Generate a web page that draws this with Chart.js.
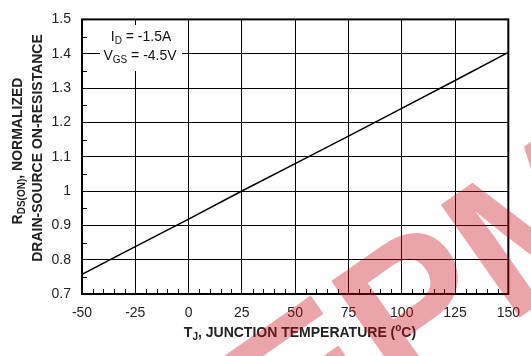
<!DOCTYPE html>
<html>
<head>
<meta charset="utf-8">
<script src="https://cdn.jsdelivr.net/npm/chart.js@4/dist/chart.umd.min.js"></script>
<style>
  html, body { margin: 0; padding: 0; background: #fff; }
  canvas { display: block; }
</style>
</head>
<body>
<canvas id="grafico" width="531" height="356"></canvas>
<script>
// =============================
// DATOS
// =============================
const temperaturas = [-50, -25, 0, 25, 50, 75, 100, 125, 150];
const rdsNormalizada = [0.757, 0.838, 0.918, 1.0, 1.08, 1.16, 1.241, 1.322, 1.404];

const xTicks = [-50, -25, 0, 25, 50, 75, 100, 125, 150];
const yTicks = [0.7, 0.8, 0.9, 1, 1.1, 1.2, 1.3, 1.4, 1.5];

// texto con subindices: [texto, 0 normal | 1 sub | 2 sup]
const condiciones = [
  [["I", 0], ["D", 1], [" = -1.5A", 0]],
  [["V", 0], ["GS", 1], [" = -4.5V", 0]]
];
const tituloX = [["T", 0], ["J", 1], [", JUNCTION TEMPERATURE (", 0], ["o", 2], ["C)", 0]];
const tituloY1 = [["R", 0], ["DS(ON)", 1], [", NORMALIZED", 0]];
const tituloY2 = [["DRAIN-SOURCE ON-RESISTANCE", 0]];

const FUENTE = "'Liberation Sans', Arial, sans-serif";

// =============================
// TEXTO ENRIQUECIDO
// =============================
function textoRico(ctx, partes, x, y, size, bold) {
  const peso = bold ? "bold " : "";
  const fNormal = peso + size + "px " + FUENTE;
  const fSub = peso + Math.round(size * 0.68) + "px " + FUENTE;
  let ancho = 0;
  partes.forEach(([t, tipo]) => {
    ctx.font = tipo ? fSub : fNormal;
    ancho += ctx.measureText(t).width;
  });
  let cx = x - ancho / 2;
  ctx.textAlign = "left";
  ctx.textBaseline = "middle";
  partes.forEach(([t, tipo]) => {
    ctx.font = tipo ? fSub : fNormal;
    let dy = 0;
    if (tipo === 1) dy = size * 0.3;
    if (tipo === 2) dy = -size * 0.35;
    ctx.fillText(t, cx, y + dy);
    cx += ctx.measureText(t).width;
  });
}

// =============================
// PLUGIN DECORACION
// =============================
const decoracion = {
  id: "decoracion",
  afterDatasetsDraw(chart) {
    const { ctx, chartArea: a, scales } = chart;
    ctx.save();

    // ticks menores
    ctx.strokeStyle = "#000";
    ctx.lineWidth = 1;
    ctx.beginPath();
    for (let v = -50; v <= 150; v += 5) {
      if (v % 25 === 0) continue;
      const px = Math.round(scales.x.getPixelForValue(v)) + 0.5;
      ctx.moveTo(px, a.bottom);
      ctx.lineTo(px, a.bottom - 5);
    }
    for (let i = 0; i < yTicks.length - 1; i++) {
      const v = (yTicks[i] + yTicks[i + 1]) / 2;
      const py = Math.round(scales.y.getPixelForValue(v)) + 0.5;
      ctx.moveTo(a.left, py);
      ctx.lineTo(a.left + 5, py);
    }
    ctx.stroke();

    // marco
    ctx.lineWidth = 2;
    ctx.strokeRect(a.left, a.top, a.right - a.left, a.bottom - a.top);

    // cuadro de condiciones
    ctx.fillStyle = "#fff";
    ctx.fillRect(100, 25, 82, 46);
    ctx.fillStyle = "#111";
    textoRico(ctx, condiciones[0], 141, 37, 14, false);
    textoRico(ctx, condiciones[1], 140, 56, 14, false);

    // titulos
    ctx.fillStyle = "#222";
    textoRico(ctx, tituloX, 300, 333, 14, true);
    ctx.save();
    ctx.translate(18, 151);
    ctx.rotate(-Math.PI / 2);
    textoRico(ctx, tituloY1, 0, 0, 14, true);
    ctx.restore();
    ctx.save();
    ctx.translate(38, 148);
    ctx.rotate(-Math.PI / 2);
    textoRico(ctx, tituloY2, 0, 0, 14, true);
    ctx.restore();

    ctx.restore();
  },
  afterDraw(chart) {
    // marca de agua
    const { ctx } = chart;
    ctx.save();
    ctx.translate(290, 478);
    ctx.rotate(-0.61);
    ctx.fillStyle = "rgba(200, 10, 25, 0.37)";
    ctx.font = "bold 200px " + FUENTE;
    ctx.textAlign = "left";
    ctx.textBaseline = "alphabetic";
    ctx.fillText("EPM", 0, 0);
    ctx.restore();
  }
};

// =============================
// GRAFICO
// =============================
new Chart(document.getElementById("grafico"), {
  type: "line",
  data: {
    datasets: [{
      data: temperaturas.map((t, i) => ({ x: t, y: rdsNormalizada[i] })),
      borderColor: "#000",
      borderWidth: 1.5,
      pointRadius: 0,
      tension: 0
    }]
  },
  options: {
    responsive: false,
    animation: false,
    layout: { padding: { top: 12, right: 13, left: 0, bottom: 0 } },
    plugins: {
      legend: { display: false },
      tooltip: { enabled: false }
    },
    scales: {
      x: {
        type: "linear",
        min: xTicks[0],
        max: xTicks[xTicks.length - 1],
        afterBuildTicks: s => { s.ticks = xTicks.map(v => ({ value: v })); },
        ticks: {
          color: "#222",
          font: { family: FUENTE, size: 14 },
          padding: 11,
          maxRotation: 0,
          autoSkip: false
        },
        grid: { color: "#000", lineWidth: 1, drawTicks: false },
        border: { display: false },
        afterFit: s => { s.height = 62; }
      },
      y: {
        min: yTicks[0],
        max: yTicks[yTicks.length - 1],
        afterBuildTicks: s => { s.ticks = yTicks.map(v => ({ value: v })); },
        ticks: {
          color: "#222",
          font: { family: FUENTE, size: 14 },
          padding: 11,
          autoSkip: false,
          callback: v => String(Math.round(v * 10) / 10)
        },
        grid: { color: "#000", lineWidth: 1, drawTicks: false },
        border: { display: false },
        afterFit: s => { s.width = 82; }
      }
    }
  },
  plugins: [decoracion]
});
</script>
</body>
</html>
